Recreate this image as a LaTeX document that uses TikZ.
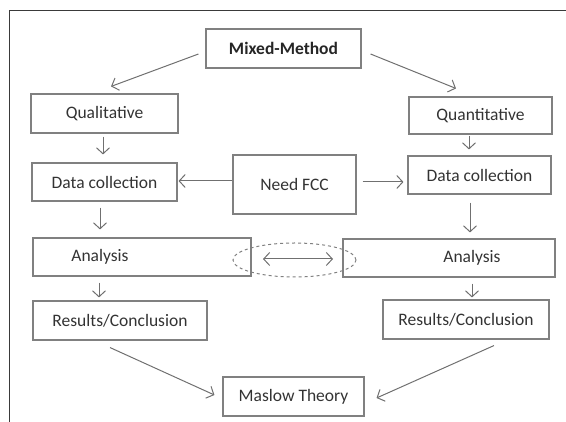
\documentclass[tikz,border=0pt]{standalone}
\usepackage{fontspec}
\setmainfont{Carlito}
\usetikzlibrary{arrows.meta,calc,shapes.geometric}
\definecolor{boxc}{HTML}{808080}
\definecolor{linec}{HTML}{707070}
\definecolor{txtc}{HTML}{333333}
\definecolor{framec}{HTML}{3A3A3A}
\tikzset{
  box/.style={draw=boxc, line width=1.1pt, rectangle, inner sep=0pt, text=txtc,
    font=\fontsize{17.5}{20}\selectfont},
  lbl/.style={text=txtc, inner sep=0pt, font=\fontsize{17.5}{20}\selectfont},
  arr/.style={draw=linec, line width=1pt, -{Straight Barb[length=6pt,width=13pt]}},
  darr/.style={draw=linec, line width=1pt, {Straight Barb[length=6pt,width=13pt]}-{Straight Barb[length=6pt,width=13pt]}},
}
\begin{document}
\begin{tikzpicture}[x=1pt,y=-1pt]
\useasboundingbox (0,0) rectangle (566,422);
% frame
\draw[framec, line width=1pt] (9,422) -- (9,11) -- (566,11);
% boxes
\node[box, minimum width=155pt, minimum height=39pt, font=\fontsize{17.5}{20}\selectfont\bfseries, text=black!85] (mm) at (283.5,48.5) {Mixed-Method};
\node[box, minimum width=147pt, minimum height=39pt] (qual) at (104.5,113.5) {Qualitative};
\node[box, minimum width=143pt, minimum height=37pt] (quan) at (480.5,115.5) {Quantitative};
\node[box, minimum width=145pt, minimum height=38pt] (dcl) at (104.5,182) {Data collection};
\node[box, minimum width=123pt, minimum height=59pt] (fcc) at (294.5,184.5) {Need FCC};
\node[box, minimum width=143pt, minimum height=38pt] (dcr) at (479.5,175) {Data collection};
\node[box, minimum width=218pt, minimum height=38pt] (anl) at (142,257) {};
\node[lbl] (anltxt) at (100,257) {Analysis};
\node[box, minimum width=212pt, minimum height=38pt] (anr) at (449,258) {};
\node[lbl] (anrtxt) at (472,258) {Analysis};
\node[box, minimum width=174pt, minimum height=39pt] (resl) at (120,320.5) {Results/Conclusion};
\node[box, minimum width=166pt, minimum height=39pt] (resr) at (466,319.5) {Results/Conclusion};
\node[box, minimum width=141pt, minimum height=39pt] (mas) at (293.5,396.5) {Maslow Theory};
% dashed ellipse
\node[draw=boxc, dashed, line width=1pt, ellipse, minimum width=123pt, minimum height=34pt, inner sep=0pt] (ell) at (294.5,260) {};
\coordinate (e1) at (263,259);
\coordinate (e2) at (333,259);
\draw[darr] (e1) -- (e2);
% connectors
\draw[arr] ($(mm.west)+(-7,5.5)$) -- ($(qual.north)+(6.5,-7)$);
\draw[arr] ($(mm.east)+(9,5.5)$) -- ($(quan.north)+(-24.5,-8)$);
\draw[arr] ($(qual.south)+(-1.5,3)$) -- ($(dcl.north)+(-1.5,-8)$);
\draw[arr] ($(quan.south)+(-11.5,1)$) -- ($(dcr.north)+(-10.5,-6)$);
\draw[arr] ($(fcc.west)+(0,-3.5)$) -- ($(dcl.east)+(1,-1)$);
\draw[arr] ($(fcc.east)+(6,-2.5)$) -- ($(dcr.west)+(-4,7)$);
\draw[arr] ($(dcl.south)+(-4.5,6)$) -- ($(anl.north)+(-42,-8)$);
\draw[arr] ($(dcr.south)+(-9.5,8)$) -- ($(anr.north)+(21,-6)$);
\draw[arr] ($(anl.south)+(-43,6)$) -- ($(resl.north)+(-21,-3)$);
\draw[arr] ($(anr.south)+(23,6)$) -- ($(resr.north)+(6,-2)$);
\draw[arr] ($(resl.south)+(-10,7)$) -- ($(mas.west)+(-8,-1.5)$);
\draw[arr] ($(resr.south)+(28,6)$) -- ($(mas.east)+(12,1.5)$);
\end{tikzpicture}
\end{document}
